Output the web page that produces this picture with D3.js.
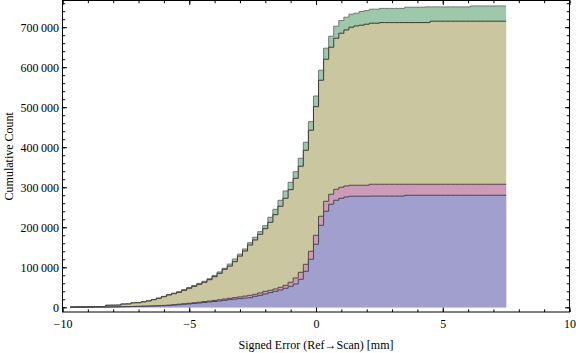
<!DOCTYPE html>
<html>
<head>
<meta charset="utf-8">
<script src="https://cdn.jsdelivr.net/npm/d3@7"></script>
<style>
  body { margin: 0; background: #fff; }
  svg { display: block; font-family: "Liberation Serif", "Times New Roman", serif; }
  .domain { display: none; }
</style>
</head>
<body>
<div class="container"></div>
<script>
let width = 576
let height = 353

// histogram bins: 0.2 wide, first left edge at -9.7
const binStart = -9.7
const binWidth = 0.2

// cumulative counts per bin
const blueCounts = [
  0, 0, 200, 300, 400, 500, 600, 800, 1000, 1200,
  1500, 1700, 1900, 2100, 2400, 2700, 3000, 3500, 4000, 4500,
  5500, 6500, 7500, 8500, 9500, 10800, 12000, 13300, 14500, 15800,
  17500, 19200, 20500, 21700, 23000, 24000, 27500, 30000, 33300, 36700,
  40000, 43300, 47500, 52500, 58300, 70000, 90000, 120000, 157500, 205000,
  240000, 257500, 267500, 272500, 275800, 277500, 277500, 277500, 277500, 278000,
  278000, 278000, 278000, 278000, 278000, 278000, 280000, 280000, 280000, 280000,
  280000, 280000, 280000, 280000, 280000, 280000, 280000, 280000, 280000, 280000,
  280000, 280000, 280000, 280000, 280000, 280000
]
const pinkCounts = [
  0, 0, 200, 300, 400, 500, 600, 800, 1000, 1300,
  1700, 1900, 2200, 2500, 2800, 3200, 3600, 4200, 4800, 5400,
  6500, 7700, 8900, 10100, 11300, 12800, 14200, 15700, 17200, 18800,
  20600, 22500, 24200, 26000, 28000, 30000, 32500, 35800, 40000, 42500,
  45800, 50000, 55000, 62500, 73300, 87500, 107500, 140000, 180000, 227500,
  265000, 282500, 295000, 300000, 303300, 305000, 305000, 305000, 305000, 307500,
  307500, 307500, 307500, 307500, 307500, 307500, 307500, 307500, 307500, 307500,
  307500, 307500, 307500, 307500, 307500, 307500, 307500, 307500, 307500, 307500,
  307500, 307500, 307500, 307500, 307500, 307500
]
const oliveCounts = [
  800, 1000, 1200, 1300, 1400, 1500, 1700, 5000, 5200, 5400,
  8000, 8300, 11000, 11300, 13500, 15750, 19000, 22500, 26500, 30750,
  34000, 37500, 42500, 47500, 52500, 57500, 62500, 69000, 76500, 85000,
  95000, 103000, 114000, 128000, 140750, 155750, 168250, 182500, 196500, 212500,
  231500, 252500, 272500, 294000, 322500, 352500, 392500, 442500, 501500, 567500,
  620000, 650000, 672500, 685000, 693250, 700000, 703250, 705000, 707500, 710000,
  710000, 711500, 711500, 711500, 711500, 711500, 711500, 711500, 711500, 711500,
  711500, 715000, 715000, 715000, 715000, 715000, 715000, 715000, 715000, 715000,
  715000, 715000, 715000, 715000, 715000, 715000
]
const greenCounts = [
  900, 1100, 1300, 1400, 1500, 1600, 1800, 5200, 5400, 5600,
  8300, 8600, 11400, 11700, 14000, 16300, 19700, 23300, 27500, 32000,
  35400, 39000, 44200, 49400, 54600, 59800, 65000, 71500, 79700, 88300,
  97500, 108000, 120700, 133000, 145750, 161500, 175000, 189000, 204000, 225000,
  245000, 267500, 290750, 312500, 339000, 372500, 412500, 464000, 528000, 592500,
  647500, 677500, 702500, 716500, 725000, 732500, 735000, 739000, 741500, 745000,
  745000, 747000, 747000, 747000, 747000, 747000, 750000, 750000, 750000, 750000,
  750750, 750750, 750750, 750750, 750750, 750750, 750750, 750750, 750750, 753000,
  753000, 753000, 753000, 753000, 753000, 753000
]

// drawn back to front
const seriesList = [
  { name: 'green', counts: greenCounts, fill: '#9dc8aa', stroke: '#6b7a70' },
  { name: 'olive', counts: oliveCounts, fill: '#cac6a0', stroke: '#3a3a32' },
  { name: 'pink', counts: pinkCounts, fill: '#cc9bba', stroke: '#55474f' },
  { name: 'blue', counts: blueCounts, fill: '#a09fcd', stroke: '#45455a' }
]

const xTicks = [-10, -5, 0, 5, 10]
const yTicks = [0, 100000, 200000, 300000, 400000, 500000, 600000, 700000]

let plot = { left: 62.5, right: 569.5, top: 0.5, bottom: 312 }
const serif = '"Liberation Serif", "Times New Roman", serif'

let svg = d3.select('.container')
  .append('svg')
  .attr('width', width)
  .attr('height', height)

let x = d3.scaleLinear().domain([-10, 10]).range([plot.left, plot.right])
let y = d3.scaleLinear().domain([-11750, 766750]).range([plot.bottom, plot.top])

let area = d3.area()
  .curve(d3.curveStepAfter)
  .x(d => x(d[0]))
  .y0(y(0))
  .y1(d => y(d[1]))

let line = d3.line()
  .curve(d3.curveStepAfter)
  .x(d => x(d[0]))
  .y(d => y(d[1]))

seriesList.forEach(s => {
  let pts = s.counts.map((c, i) => [binStart + i * binWidth, c])
  pts.push([binStart + s.counts.length * binWidth, s.counts[s.counts.length - 1]])
  svg.append('path')
    .datum(pts)
    .attr('fill', s.fill)
    .attr('d', area)
  svg.append('path')
    .datum(pts)
    .attr('fill', 'none')
    .attr('stroke', s.stroke)
    .attr('stroke-width', 1)
    .attr('d', line)
})

let fmtY = d => d3.format(',')(d).replace(/,/g, '\u2009')

let xMinor = d3.range(-10, 11, 1)
let yMinor = d3.range(0, 766750, 20000)

// minor ticks on all four sides
svg.append('g').attr('transform', `translate(0,${plot.bottom})`)
  .call(d3.axisBottom(x).tickValues(xMinor).tickSize(-2.7).tickFormat(''))
svg.append('g').attr('transform', `translate(0,${plot.top})`)
  .call(d3.axisTop(x).tickValues(xMinor).tickSize(-2.7).tickFormat(''))
svg.append('g').attr('transform', `translate(${plot.left},0)`)
  .call(d3.axisLeft(y).tickValues(yMinor).tickSize(-2.7).tickFormat(''))
svg.append('g').attr('transform', `translate(${plot.right},0)`)
  .call(d3.axisRight(y).tickValues(yMinor).tickSize(-2.7).tickFormat(''))

// major ticks
svg.append('g').attr('transform', `translate(0,${plot.bottom})`)
  .call(d3.axisBottom(x).tickValues(xTicks).tickSize(-4.5).tickPadding(7).tickFormat(d3.format('d')))
svg.append('g').attr('transform', `translate(0,${plot.top})`)
  .call(d3.axisTop(x).tickValues(xTicks).tickSize(-4.5).tickFormat(''))
svg.append('g').attr('transform', `translate(${plot.left},0)`)
  .call(d3.axisLeft(y).tickValues(yTicks).tickSize(-4.5).tickPadding(3.5).tickFormat(fmtY))
svg.append('g').attr('transform', `translate(${plot.right},0)`)
  .call(d3.axisRight(y).tickValues(yTicks).tickSize(-4.5).tickFormat(''))

svg.selectAll('.tick line').attr('stroke', '#000')
svg.selectAll('.tick text')
  .attr('fill', '#000')
  .style('font-family', serif)
  .style('font-size', '12px')

// frame
svg.append('rect')
  .attr('x', plot.left)
  .attr('y', plot.top)
  .attr('width', plot.right - plot.left)
  .attr('height', plot.bottom - plot.top)
  .attr('fill', 'none')
  .attr('stroke', '#000')
  .attr('stroke-width', 1)

svg.append('text')
  .attr('x', (plot.left + plot.right) / 2)
  .attr('y', 349)
  .attr('text-anchor', 'middle')
  .style('font-family', serif)
  .style('font-size', '12px')
  .text('Signed Error (Ref\u2192Scan) [mm]')

svg.append('text')
  .attr('transform', `translate(12.5,${(plot.top + plot.bottom) / 2}) rotate(-90)`)
  .attr('text-anchor', 'middle')
  .style('font-family', serif)
  .style('font-size', '12px')
  .text('Cumulative Count')
</script>
</body>
</html>
